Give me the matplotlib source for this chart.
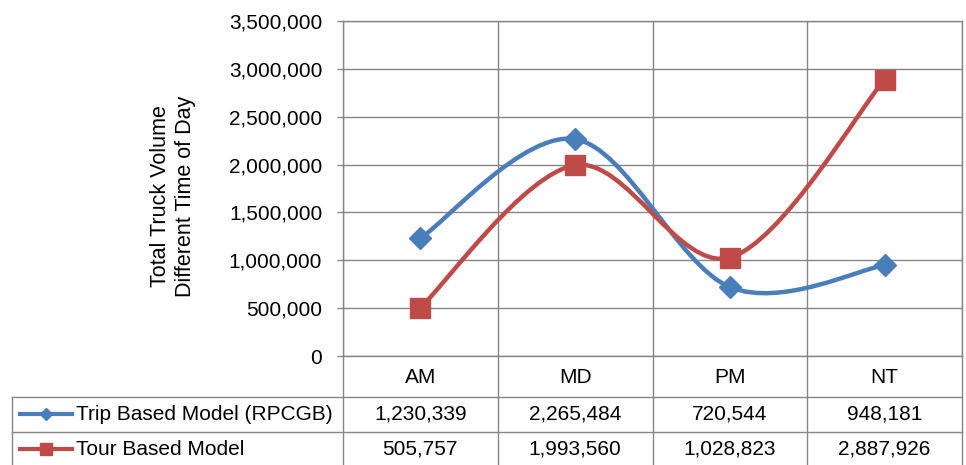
import matplotlib.pyplot as plt
import matplotlib.transforms as mtransforms
import numpy as np
from matplotlib.lines import Line2D
from matplotlib.patches import PathPatch
from matplotlib.path import Path
from matplotlib.ticker import FuncFormatter, MultipleLocator

periods = ["AM", "MD", "PM", "NT"]
trip_based = [1230339, 2265484, 720544, 948181]
tour_based = [505757, 1993560, 1028823, 2887926]
series_names = ["Trip Based Model (RPCGB)", "Tour Based Model"]
series_colors = ["#4A7EBB", "#BE4B48"]
series_markers = ["D", "s"]

plt.rcParams['font.family'] = ['Liberation Sans', 'DejaVu Sans']

W, H = 966, 465
GRID = "#868686"
FS = 15


def fx(px):
    return px / W


def fy(py):
    return 1 - py / H


def smooth_path(xs, ys):
    """Cubic bezier through the points, spreadsheet-style smoothing."""
    pts = np.column_stack([xs, ys]).astype(float)
    n = len(pts)
    verts = [pts[0]]
    codes = [Path.MOVETO]
    for i in range(n - 1):
        p0 = pts[max(i - 1, 0)]
        p1 = pts[i]
        p2 = pts[i + 1]
        p3 = pts[min(i + 2, n - 1)]
        verts += [p1 + (p2 - p0) / 6, p2 - (p3 - p1) / 6, p2]
        codes += [Path.CURVE4] * 3
    return Path(verts, codes)


fig = plt.figure(figsize=(W / 100, H / 100), dpi=100)
ax = fig.add_axes([fx(343), fy(356), fx(962) - fx(343), fy(21) - fy(356)])

x = np.arange(len(periods))
for vals, color, mk in zip([trip_based, tour_based], series_colors, series_markers):
    ax.add_patch(PathPatch(smooth_path(x, vals), fill=False, edgecolor=color,
                           linewidth=3.2, capstyle='round', zorder=3))
    ms = 11 if mk == "D" else 14
    ax.plot(x, vals, linestyle='none', marker=mk, markersize=ms, color=color,
            markeredgecolor=color, zorder=4)

ax.set_xlim(-0.5, len(periods) - 0.5)
ax.set_ylim(0, 3500000)
ax.yaxis.set_major_locator(MultipleLocator(500000))
ax.yaxis.set_major_formatter(FuncFormatter(lambda v, _: f"{int(v):,}"))
ax.set_xticks(np.arange(len(periods) + 1) - 0.5)
ax.set_xticklabels([])
ax.tick_params(axis='x', length=0)
ax.tick_params(axis='y', length=4, width=1, color=GRID, pad=11, labelsize=FS)
ax.grid(True, color=GRID, linewidth=1.0)
for sp in ax.spines.values():
    sp.set_color(GRID)
    sp.set_linewidth(1.0)
ax.set_ylabel("Total Truck Volume\nDifferent Time of Day", fontsize=15.5,
              linespacing=1.25, va='center', ha='center')
ax.yaxis.set_label_coords((173 - 343) / 619, (356 - 196) / 335)

# data table under the plot
trans = mtransforms.blended_transform_factory(ax.transData, fig.transFigure)
row_y = [377, 414, 449]
for b in np.arange(len(periods) + 1) - 0.5:
    fig.add_artist(Line2D([b, b], [fy(356), fy(470)], transform=trans,
                          color=GRID, linewidth=1.0))
fig.add_artist(Line2D([fx(12), fx(12)], [fy(397), fy(470)], transform=fig.transFigure,
                      color=GRID, linewidth=1.0))
for hy in [397, 432, 467]:
    fig.add_artist(Line2D([fx(12), fx(962)], [fy(hy), fy(hy)], transform=fig.transFigure,
                          color=GRID, linewidth=1.0))

for i, p in enumerate(periods):
    fig.text(i, fy(row_y[0]), p, transform=trans, ha='center', va='center', fontsize=FS)

for r, (name, vals, color, mk) in enumerate(zip(series_names, [trip_based, tour_based],
                                                series_colors, series_markers)):
    yy = fy(row_y[r + 1])
    fig.add_artist(Line2D([fx(20), fx(72)], [yy, yy], transform=fig.transFigure,
                          color=color, linewidth=3.0))
    fig.add_artist(Line2D([fx(46)], [yy], transform=fig.transFigure, marker=mk,
                          markersize=6 if mk == "D" else 8, color=color))
    fig.text(fx(76), yy, name, ha='left', va='center', fontsize=FS)
    for i, v in enumerate(vals):
        fig.text(i, yy, f"{v:,}", transform=trans, ha='center', va='center', fontsize=FS)

fig.savefig("out.png", dpi=100)
